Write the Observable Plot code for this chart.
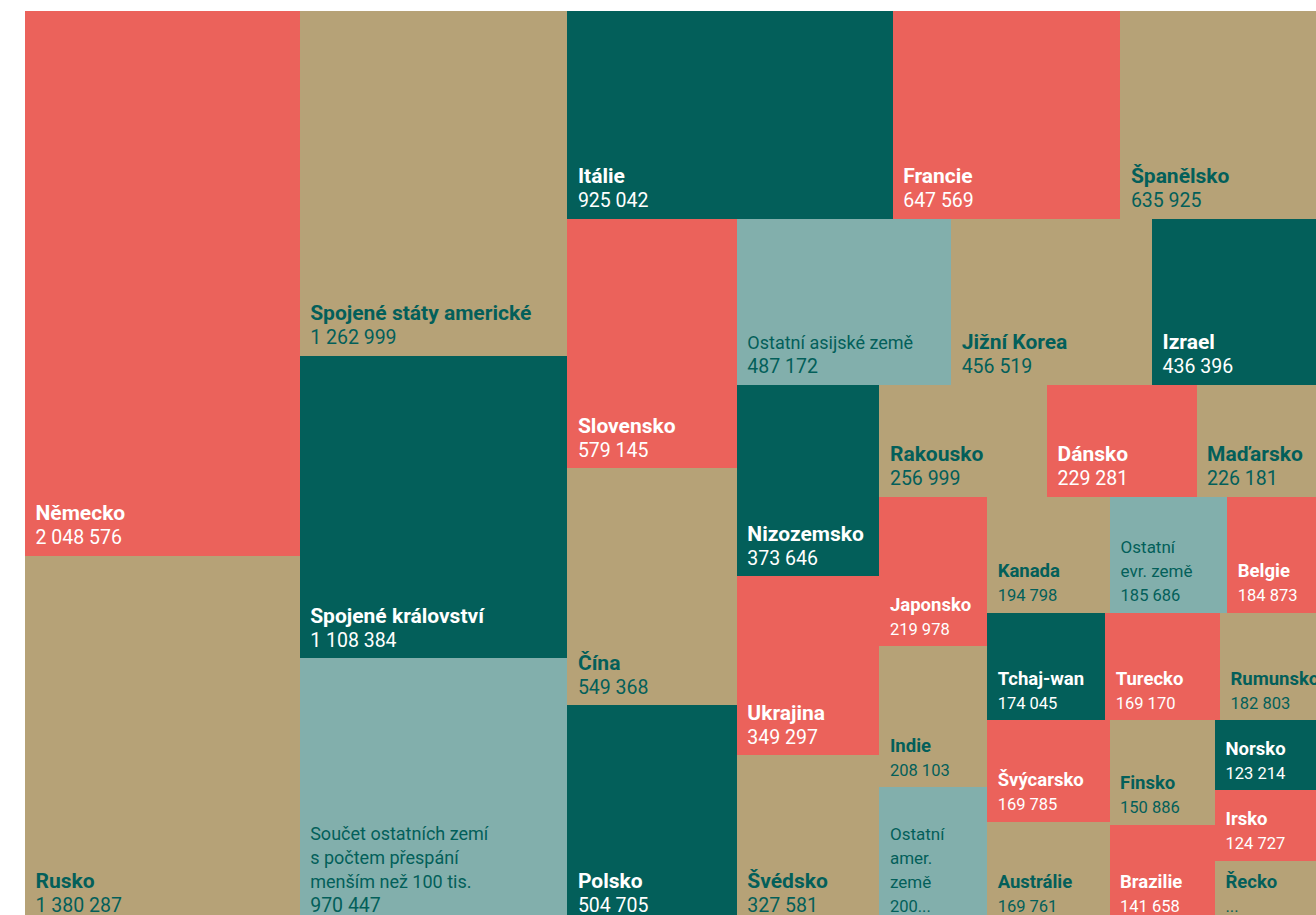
<!DOCTYPE html>
<html><head><meta charset="utf-8">
<script src="https://cdn.jsdelivr.net/npm/d3@7"></script>
<script src="https://cdn.jsdelivr.net/npm/@observablehq/plot@0.6"></script>
<style>
html,body{margin:0;padding:0;overflow:hidden;background:#fff;}
#chart{width:1344px;}
#chart svg{display:block;max-width:none !important;width:1344px !important;height:923px !important;}
</style></head><body><div id="chart"></div>
<script>
// ---- data (in layout order) ----
const names = ["Německo","Rusko","Spojené státy americké","Spojené království",
  "Součet ostatních zemí\ns počtem přespání\nmenším než 100 tis.",
  "Itálie","Francie","Španělsko","Slovensko","Čína","Polsko","Ostatní asijské země",
  "Jižní Korea","Izrael","Nizozemsko","Ukrajina","Švédsko","Rakousko","Dánsko","Maďarsko",
  "Japonsko","Indie","Ostatní\namer.\nzemě","Kanada","Ostatní\nevr. země","Belgie",
  "Tchaj-wan","Turecko","Rumunsko","Švýcarsko","Austrálie","Finsko","Brazilie",
  "Norsko","Irsko","Řecko"];
const values = [2048576,1380287,1262999,1108384,970447,925042,647569,635925,579145,549368,
  504705,487172,456519,436396,373646,349297,327581,256999,229281,226181,219978,208103,
  200000,194798,185686,184873,174045,169170,182803,169785,169761,150886,141658,123214,
  124727,110000];
const groups = ["red","tan","tan","dark","other","dark","red","tan","red","tan","dark","other",
  "tan","dark","dark","red","tan","tan","red","tan","red","tan","other","tan","other","red",
  "dark","red","tan","red","tan","tan","red","dark","red","tan"];
// value texts shown truncated in the original
const truncatedNames = ["Ostatní\namer.\nzemě","Řecko"];
const truncatedTexts = ["200...","..."];
// tiling structure: number of cells per strip and strip direction
const rowSizes = [2,3,3,3,3,3,3,3,3,3,2,2,3];
const rowDirs = ["col","col","row","col","row","col","row","col","row","row","col","col","col"];

const colorDomain = ["red","tan","dark","other"];
const colorRange = ["#eb625b","#b6a277","#035f5a","#82afac"];
const textDark = "#035f5a";

// ---- layout ----
const W = 1319, H = 912;
function tile(parent, x0, y0, x1, y1) {
  let value = parent.value, start = 0;
  rowSizes.forEach((n, r) => {
    const children = parent.children.slice(start, start + n); start += n;
    const sum = d3.sum(children, c => c.value);
    const row = {value: sum, children};
    if (rowDirs[r] === "row") {
      const yb = y0 + (y1 - y0) * sum / value;
      d3.treemapDice(row, x0, y0, x1, yb); y0 = yb;
    } else {
      const xb = x0 + (x1 - x0) * sum / value;
      d3.treemapSlice(row, x0, y0, xb, y1); x0 = xb;
    }
    value -= sum;
  });
}
const root = d3.hierarchy({children: names.map((n, i) => ({i}))})
  .sum(d => d.i === undefined ? 0 : values[d.i]);
d3.treemap().size([W, H]).tile(tile)(root);

const fmt = d3.formatLocale({thousands: " ", grouping: [3], decimal: ",", currency: ["", " Kč"]}).format(",d");
const cells = root.leaves().map(l => {
  const i = l.data.i;
  const t = truncatedNames.indexOf(names[i]);
  return {
    x1: l.x0, x2: l.x1, y1: l.y0, y2: l.y1,
    name: names[i], group: groups[i],
    label: t >= 0 ? truncatedTexts[t] : fmt(values[i]),
    small: (l.x1 - l.x0) < 135
  };
});

// ---- marks ----
const textMarks = [];
for (const small of [false, true]) {
  for (const g of colorDomain) {
    const fill = (g === "red" || g === "dark") ? "#ffffff" : textDark;
    const weight = g === "other" ? 400 : 700;
    const nameSize = small ? (g === "other" ? 17 : 18.5) : (g === "other" ? 18 : 21);
    const valueSize = small ? 16.5 : 19.5;
    const f = d => d.small === small && d.group === g;
    textMarks.push(Plot.text(cells, {filter: f, x: "x1", y: "y2", text: "name", dx: 10, dy: -36,
      textAnchor: "start", lineAnchor: "bottom", fontSize: nameSize, lineHeight: 24 / nameSize,
      fontWeight: weight, fill}));
    textMarks.push(Plot.text(cells, {filter: f, x: "x1", y: "y2", text: "label", dx: 10, dy: -12,
      textAnchor: "start", lineAnchor: "bottom", fontSize: valueSize, lineHeight: 24 / valueSize,
      fontWeight: 400, fill}));
  }
}

const chart = Plot.plot({
  width: 1344, height: 923,
  marginLeft: 25, marginTop: 11, marginRight: 0, marginBottom: 0,
  x: {axis: null, domain: [0, W]},
  y: {axis: null, domain: [0, H], reverse: true},
  color: {domain: colorDomain, range: colorRange},
  style: {fontFamily: "Roboto, sans-serif", background: "#fff", maxWidth: "none"},
  marks: [
    Plot.rect(cells, {x1: "x1", x2: "x2", y1: "y1", y2: "y2", fill: "group", shapeRendering: "crispEdges"}),
    ...textMarks
  ]
});
document.getElementById("chart").appendChild(chart);
</script></body></html>
